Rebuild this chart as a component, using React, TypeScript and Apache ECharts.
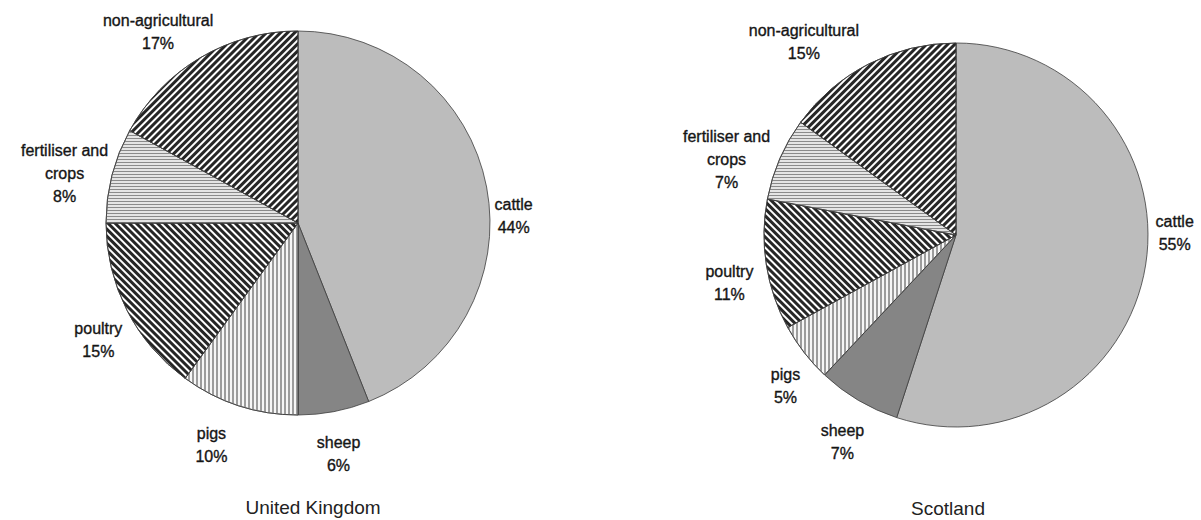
import React, { useEffect, useRef } from 'react';
import * as echarts from 'echarts';

// ---- data ----
const categories = ['cattle', 'sheep', 'pigs', 'poultry', 'fertiliser and\ncrops', 'non-agricultural'];
const ukValues = [44, 6, 10, 15, 8, 17];
const scotlandValues = [55, 7, 5, 11, 7, 15];
const chartTitles = ['United Kingdom', 'Scotland'];

// ---- label nudges (relative to the library's outside label position) ----
const ukLabelOffsets = [[4, 30], [-18, 38], [-10, 36], [-1, 28], [0, -1], [15, -22]];
const scLabelOffsets = [[6, -33], [8, 38], [-1, 31], [-9, 17], [-6, 2], [-8, -18]];

const FONT = '"Liberation Sans", Arial, Helvetica, sans-serif';

const stripe = (rotation: number) => ({
  symbol: 'rect',
  symbolSize: 1,
  dashArrayX: [1, 0],
  dashArrayY: [3, 2],
  rotation,
  color: '#262626',
});

const fills: any[] = [
  { color: '#bcbcbc' },
  { color: '#858585' },
  {
    color: '#f6f6f6',
    decal: { symbol: 'rect', symbolSize: 1, dashArrayX: [2, 2], dashArrayY: [1, 0], color: '#9c9c9c' },
  },
  { color: '#ffffff', decal: stripe(Math.PI / 4) },
  {
    color: '#e4e4e4',
    decal: { symbol: 'rect', symbolSize: 1, dashArrayX: [1, 0], dashArrayY: [1, 2], color: '#8a8a8a' },
  },
  { color: '#ffffff', decal: stripe(-Math.PI / 4) },
];

function makeSeries(values: number[], center: number[], offsets: number[][]) {
  return {
    type: 'pie',
    center,
    radius: 192,
    startAngle: 90,
    clockwise: true,
    avoidLabelOverlap: false,
    silent: true,
    emphasis: { disabled: true },
    itemStyle: { borderColor: '#3c3c3c', borderWidth: 0.8 },
    label: {
      show: true,
      position: 'outside',
      distanceToLabelLine: 0,
      bleedMargin: 0,
      formatter: (p: any) =>
        String(p.name)
          .split('\n')
          .map((l: string) => `{t|${l}}`)
          .join('\n') + `\n{t|${p.value}%}`,
      rich: {
        t: {
          align: 'center',
          fontSize: 16,
          lineHeight: 23,
          color: '#151515',
          textBorderColor: '#151515',
          textBorderWidth: 0.35,
          fontFamily: FONT,
        },
      },
    },
    labelLine: { show: false, length: 4, length2: 0 },
    labelLayout: (p: any) => {
      const o = offsets[p.dataIndex] || [0, 0];
      return {
        x: p.labelRect.x + p.labelRect.width / 2 + o[0],
        y: p.labelRect.y + p.labelRect.height / 2 + o[1],
        align: 'center',
        verticalAlign: 'middle',
      };
    },
    data: categories.map((name, i) => ({ name, value: values[i], itemStyle: fills[i] })),
  };
}

export default function App() {
  const ref = useRef<HTMLDivElement>(null);
  useEffect(() => {
    document.body.style.margin = '0';
    if (!ref.current) return;
    const chart = echarts.init(ref.current, null, { renderer: 'svg' });
    chart.setOption({
      animation: false,
      backgroundColor: '#ffffff',
      textStyle: { fontFamily: FONT },
      series: [
        makeSeries(ukValues, [298, 223], ukLabelOffsets),
        makeSeries(scotlandValues, [956, 235], scLabelOffsets),
      ],
      graphic: [
        {
          type: 'text',
          x: 313,
          y: 507,
          style: {
            text: chartTitles[0],
            align: 'center',
            verticalAlign: 'middle',
            textAlign: 'center',
            textVerticalAlign: 'middle',
            fontSize: 19,
            fontFamily: FONT,
            fill: '#222222',
          },
        },
        {
          type: 'text',
          x: 948,
          y: 508,
          style: {
            text: chartTitles[1],
            align: 'center',
            verticalAlign: 'middle',
            textAlign: 'center',
            textVerticalAlign: 'middle',
            fontSize: 19,
            fontFamily: FONT,
            fill: '#222222',
          },
        },
      ],
    });
    return () => chart.dispose();
  }, []);
  return <div ref={ref} style={{ width: 1201, height: 520 }} />;
}
